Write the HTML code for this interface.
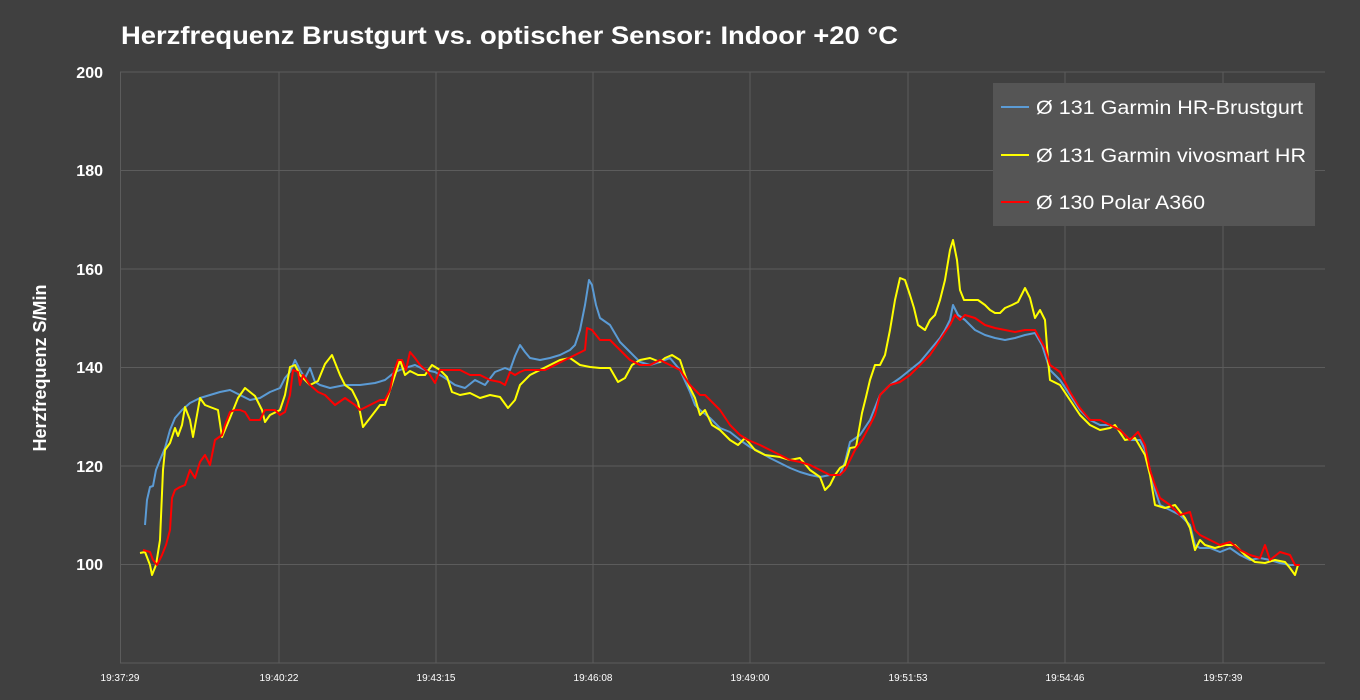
<!DOCTYPE html>
<html><head><meta charset="utf-8"><style>
body{margin:0;background:#404040;}
svg{display:block;font-family:"Liberation Sans",sans-serif;}
</style></head><body>
<svg width="1360" height="700" viewBox="0 0 1360 700" xmlns="http://www.w3.org/2000/svg" xmlns:xlink="http://www.w3.org/1999/xlink">
<defs>
<filter id="gb" x="-5%" y="-5%" width="110%" height="110%"><feGaussianBlur stdDeviation="3"/></filter>
</defs>
<rect width="1360" height="700" fill="#404040"/>
<text x="121" y="44" font-size="25" font-weight="bold" fill="#fff" textLength="777" lengthAdjust="spacingAndGlyphs">Herzfrequenz Brustgurt vs. optischer Sensor: Indoor +20 °C</text>
<g stroke="#5c5c5c" stroke-width="1">
<line x1="120" y1="72" x2="1325" y2="72"/><line x1="120" y1="170.5" x2="1325" y2="170.5"/>
<line x1="120" y1="269" x2="1325" y2="269"/><line x1="120" y1="367.5" x2="1325" y2="367.5"/>
<line x1="120" y1="466" x2="1325" y2="466"/><line x1="120" y1="564.5" x2="1325" y2="564.5"/>
<line x1="120" y1="663" x2="1325" y2="663"/>
<line x1="120.5" y1="72" x2="120.5" y2="663"/><line x1="279" y1="72" x2="279" y2="663"/>
<line x1="436" y1="72" x2="436" y2="663"/><line x1="593" y1="72" x2="593" y2="663"/>
<line x1="750" y1="72" x2="750" y2="663"/><line x1="908" y1="72" x2="908" y2="663"/>
<line x1="1065" y1="72" x2="1065" y2="663"/><line x1="1223" y1="72" x2="1223" y2="663"/>
</g>
<g font-size="16" font-weight="bold" fill="#fff" text-anchor="end">
<text x="103" y="78">200</text><text x="103" y="176">180</text><text x="103" y="275">160</text>
<text x="103" y="373">140</text><text x="103" y="472">120</text><text x="103" y="570">100</text>
</g>
<text transform="translate(46,368) rotate(-90)" font-size="18" font-weight="bold" fill="#fff" text-anchor="middle">Herzfrequenz S/Min</text>
<g font-size="10" fill="#fff" text-anchor="middle">
<text x="120" y="681">19:37:29</text><text x="279" y="681">19:40:22</text><text x="436" y="681">19:43:15</text>
<text x="593" y="681">19:46:08</text><text x="750" y="681">19:49:00</text><text x="908" y="681">19:51:53</text>
<text x="1065" y="681">19:54:46</text><text x="1223" y="681">19:57:39</text>
</g>
<g fill="none" stroke-linejoin="round">
<polyline id="b" stroke="#5b9bd5" stroke-width="2" points="145,525 147,500 150,487 153,486 156,470 160,460 165,448 170,430 175,418 182,410 190,403 200,398 210,395 220,392 230,390 240,395 250,400 260,398 270,392 280,388 285,378 290,372 295,360 300,370 305,378 310,368 315,382 320,385 330,388 345,385 360,385 375,383 385,380 395,372 405,368 415,365 425,370 435,372 445,378 455,385 465,388 475,380 485,385 495,372 505,368 510,370 515,356 520,345 525,352 530,358 540,360 550,358 560,355 570,350 575,345 580,330 585,305 589,280 592,285 596,305 600,318 610,325 620,342 630,352 640,362 650,365 660,362 670,358 680,370 690,392 695,405 700,410 710,418 720,428 730,432 740,440 750,447 760,452 770,458 780,463 790,468 800,472 810,475 820,477 830,475 840,475 845,462 850,442 860,435 870,420 880,395 890,385 900,378 910,370 920,362 930,350 940,338 945,330 950,320 953,305 958,315 965,320 975,330 985,335 995,338 1005,340 1015,338 1025,335 1035,333 1042,345 1050,370 1060,380 1070,395 1080,410 1090,420 1100,425 1110,425 1120,430 1130,440 1140,440 1145,450 1150,470 1155,490 1160,505 1170,510 1180,515 1190,525 1195,545 1200,548 1210,548 1220,552 1230,548 1240,555 1250,560 1260,558 1270,560 1280,563 1290,565 1300,565"/>
<polyline id="y" stroke="#ffff00" stroke-width="2" points="140,553 145,552 150,565 152,575 156,565 160,540 163,470 165,450 170,443 175,428 178,436 182,425 185,407 190,420 193,437 197,415 200,398 205,405 210,407 218,410 222,437 230,418 238,398 245,388 255,396 262,410 265,422 270,415 280,410 285,395 290,367 295,365 300,375 310,385 318,381 325,364 332,355 340,375 345,385 352,390 358,402 363,427 370,418 380,405 385,405 390,390 395,375 400,360 405,375 410,371 418,375 425,375 432,365 440,370 447,377 452,392 460,395 470,393 480,398 490,395 500,397 508,408 515,400 520,385 530,375 540,370 550,365 560,360 570,358 580,365 590,367 600,368 610,368 618,382 625,378 632,365 640,360 650,358 660,362 665,358 672,355 680,360 685,375 690,388 695,398 700,415 705,410 712,425 720,430 730,440 738,445 745,438 755,450 765,455 780,457 790,460 800,458 810,470 820,477 825,490 830,485 835,475 840,468 845,465 850,448 856,447 862,413 866,397 870,380 875,365 880,365 885,355 890,330 895,300 900,278 905,280 910,295 914,308 918,325 925,330 930,320 935,315 940,300 945,280 950,250 953,240 957,260 960,290 964,300 970,300 978,300 985,305 990,310 995,313 1000,313 1005,308 1012,305 1018,302 1025,288 1030,298 1035,318 1040,310 1045,320 1048,360 1050,380 1060,385 1070,400 1080,415 1090,425 1100,430 1110,428 1115,425 1125,440 1135,438 1145,455 1150,475 1155,505 1165,508 1175,505 1185,518 1190,528 1195,550 1200,540 1205,545 1215,548 1225,545 1235,545 1245,555 1255,562 1265,563 1275,560 1285,562 1290,568 1295,575 1298,565"/>
<polyline id="r" stroke="#ff0000" stroke-width="2" points="143,550 150,552 153,560 157,565 162,555 166,545 170,530 172,498 175,490 180,487 185,485 190,470 195,478 200,462 205,455 210,465 215,440 222,435 225,425 230,412 235,410 240,410 245,412 250,420 255,420 260,420 265,410 270,410 275,410 280,415 285,412 290,395 293,370 298,372 300,385 303,375 310,385 318,392 325,395 335,405 345,398 355,405 360,410 370,405 380,400 385,400 390,390 393,375 398,360 402,360 406,370 410,352 415,358 420,365 428,372 435,383 440,370 450,370 460,370 470,375 480,375 490,380 500,382 505,385 510,372 515,375 520,372 525,370 535,370 545,370 555,365 565,360 575,355 585,350 587,328 592,330 600,340 610,340 620,350 630,360 640,365 650,365 660,360 670,365 680,370 690,385 700,395 705,395 710,400 720,410 730,425 740,435 748,440 760,445 770,450 780,455 790,460 800,462 810,465 820,470 830,475 840,475 845,470 850,460 855,450 862,440 870,425 875,415 880,395 890,385 900,382 910,375 920,365 930,355 940,340 950,325 955,315 960,320 965,315 975,318 985,325 995,328 1005,330 1015,332 1025,330 1035,330 1045,348 1050,365 1060,372 1070,392 1080,408 1090,420 1100,420 1110,425 1120,430 1130,440 1138,432 1145,445 1150,470 1155,485 1160,498 1170,505 1180,515 1190,512 1195,530 1200,535 1210,540 1220,545 1230,542 1240,550 1250,555 1260,558 1265,545 1270,560 1280,552 1290,555 1295,565 1300,565"/>
</g>
<rect x="993" y="83" width="322" height="143" fill="#555555"/>
<g stroke-width="2">
<line x1="1001" y1="107" x2="1029" y2="107" stroke="#5b9bd5"/>
<line x1="1001" y1="155" x2="1029" y2="155" stroke="#ffff00"/>
<line x1="1001" y1="202" x2="1029" y2="202" stroke="#ff0000"/>
</g>
<g font-size="19" fill="#fff">
<text x="1036" y="114" textLength="267" lengthAdjust="spacingAndGlyphs">Ø 131 Garmin HR-Brustgurt</text>
<text x="1036" y="162" textLength="270" lengthAdjust="spacingAndGlyphs">Ø 131 Garmin vivosmart HR</text>
<text x="1036" y="209" textLength="169" lengthAdjust="spacingAndGlyphs">Ø 130 Polar A360</text>
</g>
</svg>
</body></html>
